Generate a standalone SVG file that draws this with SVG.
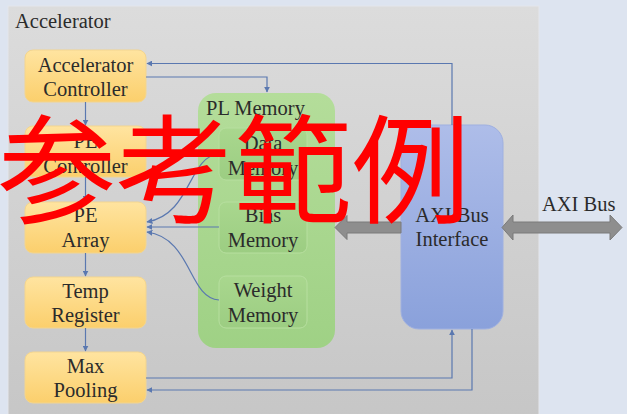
<svg xmlns="http://www.w3.org/2000/svg" width="627" height="414" viewBox="0 0 627 414">
<defs>
<linearGradient id="gAcc" x1="0" y1="0" x2="0" y2="1"><stop offset="0" stop-color="#dcdcdc"/><stop offset="1" stop-color="#c6c6c6"/></linearGradient>
<linearGradient id="gOr" x1="0" y1="0" x2="0" y2="1"><stop offset="0" stop-color="#ffe4a0"/><stop offset="1" stop-color="#fbcf6c"/></linearGradient>
<linearGradient id="gGr" x1="0" y1="0" x2="0" y2="1"><stop offset="0" stop-color="#b4dd9a"/><stop offset="1" stop-color="#9fd185"/></linearGradient>
<linearGradient id="gGi" x1="0" y1="0" x2="0" y2="1"><stop offset="0" stop-color="#a9d78e"/><stop offset="1" stop-color="#9ccd82"/></linearGradient>
<linearGradient id="gBl" x1="0" y1="0" x2="0" y2="1"><stop offset="0" stop-color="#aebde9"/><stop offset="1" stop-color="#8aa1db"/></linearGradient>
<marker id="ah" viewBox="0 0 10 10" refX="9" refY="5" markerWidth="5" markerHeight="5" orient="auto"><path d="M0,0 L10,5 L0,10 z" fill="#5a78b0"/></marker>
<style>
.t{font-family:"Liberation Serif","Times New Roman",serif;font-size:20.5px;fill:#2b2b2b}
.c{text-anchor:middle}
.ob{fill:url(#gOr);stroke:#f3d590;stroke-width:1}
.mb{fill:url(#gGi);stroke:#b7df9f;stroke-width:1}
.ln{fill:none;stroke:#5a78b0;stroke-width:1.2}
.ga{fill:#8e8e8e;stroke:#7a7a7a;stroke-width:1}
.wm{font-family:"Noto Sans CJK JP","Noto Sans CJK TC",sans-serif;font-size:118px;fill:#ff0000}
</style>
</defs>
<rect x="0" y="0" width="627" height="414" fill="#dde4f0"/>
<g id="accelerator">
<rect x="8" y="6" width="531" height="420" fill="url(#gAcc)" stroke="#e4e6ec" stroke-width="1"/>
<text class="t" x="15" y="28">Accelerator</text>
</g>
<g id="pl-memory">
<rect x="198" y="93" width="137" height="255" rx="18" fill="url(#gGr)"/>
<text class="t" x="206" y="115">PL Memory</text>
</g>
<g id="acc-controller"><rect class="ob" x="25" y="50" width="121" height="52" rx="8"/><text class="t c" x="85.5" y="72">Accelerator</text><text class="t c" x="85.5" y="96">Controller</text></g>
<g id="pe-controller"><rect class="ob" x="25" y="126" width="121" height="51" rx="8"/><text class="t c" x="85.5" y="148">PE</text><text class="t c" x="85.5" y="173">Controller</text></g>
<g id="pe-array"><rect class="ob" x="25" y="202" width="121" height="51" rx="8"/><text class="t c" x="85.5" y="222">PE</text><text class="t c" x="85.5" y="247">Array</text></g>
<g id="temp-register"><rect class="ob" x="25" y="277" width="121" height="51" rx="8"/><text class="t c" x="85.5" y="298">Temp</text><text class="t c" x="85.5" y="322">Register</text></g>
<g id="max-pooling"><rect class="ob" x="25" y="352" width="121" height="51" rx="8"/><text class="t c" x="85.5" y="373">Max</text><text class="t c" x="85.5" y="397">Pooling</text></g>
<g id="data-memory"><rect class="mb" x="219" y="128" width="88" height="52" rx="7"/><text class="t c" x="263" y="150">Data</text><text class="t c" x="263" y="175">Memory</text></g>
<g id="bias-memory"><rect class="mb" x="219" y="202" width="88" height="51" rx="7"/><text class="t c" x="263" y="222">Bias</text><text class="t c" x="263" y="247">Memory</text></g>
<g id="weight-memory"><rect class="mb" x="219" y="276" width="88" height="52" rx="7"/><text class="t c" x="263" y="297">Weight</text><text class="t c" x="263" y="322">Memory</text></g>
<g id="axi-interface"><rect x="401" y="125" width="102" height="204" rx="18" fill="url(#gBl)" stroke="#9fb0e0" stroke-width="1"/><text class="t c" x="452" y="222">AXI Bus</text><text class="t c" x="452" y="246">Interface</text></g>
<g id="axi-bus-label"><text class="t" x="542" y="211">AXI Bus</text></g>
<g id="connectors">
<path class="ln" d="M452,125 V63.5 H147" marker-end="url(#ah)"/>
<path class="ln" d="M146,77 H267 V92" marker-end="url(#ah)"/>
<path class="ln" d="M85.5,102 V125" marker-end="url(#ah)"/>
<path class="ln" d="M85.5,177 V201" marker-end="url(#ah)"/>
<path class="ln" d="M85.5,253 V276" marker-end="url(#ah)"/>
<path class="ln" d="M85.5,328 V351" marker-end="url(#ah)"/>
<path class="ln" d="M219,154 C188,156 192,214 147,222" marker-end="url(#ah)"/>
<path class="ln" d="M219,227 H147" marker-end="url(#ah)"/>
<path class="ln" d="M219,300 C188,298 192,238 147,232" marker-end="url(#ah)"/>
<path class="ln" d="M146,378 H452 V330" marker-end="url(#ah)"/>
<path class="ln" d="M472,329 V390 H147" marker-end="url(#ah)"/>
<path class="ga" d="M401,222 H347 V215.5 L335,227.5 L347,239.5 V233 H401 Z"/>
<path class="ga" d="M502,227.5 L513,215 V222 H610 V215 L622,227.5 L610,240 V233 H513 V240 Z"/>
</g>
<text class="wm" x="-2" y="214">参考範例</text>
</svg>
